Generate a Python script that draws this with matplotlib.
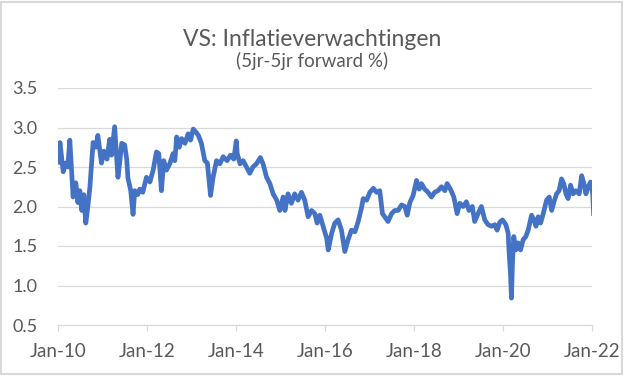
import pandas as pd
import matplotlib
matplotlib.use("Agg")
import matplotlib.pyplot as plt
import matplotlib.dates as mdates
from matplotlib.patches import Rectangle

# 5y5y forward inflation expectations (US)
dates_2010_2013 = [
    "2010-01-03", "2010-01-17", "2010-02-13", "2010-03-05", "2010-03-22", "2010-04-08",
    "2010-05-05", "2010-05-27", "2010-06-13", "2010-06-29", "2010-07-15", "2010-08-01",
    "2010-08-17", "2010-09-03", "2010-09-20", "2010-10-16", "2010-11-08", "2010-11-24",
    "2010-12-24", "2011-01-13", "2011-02-07", "2011-03-01", "2011-03-17", "2011-04-11",
    "2011-04-24", "2011-05-08", "2011-05-22", "2011-06-08", "2011-07-02", "2011-07-19",
    "2011-07-29", "2011-08-21", "2011-09-09", "2011-09-23", "2011-10-17", "2011-11-03",
    "2011-11-28", "2011-12-28", "2012-01-25", "2012-02-21", "2012-03-19", "2012-04-07",
    "2012-04-29", "2012-05-18", "2012-06-09", "2012-07-06", "2012-08-03", "2012-08-17",
    "2012-09-01", "2012-09-22", "2012-10-11", "2012-11-08", "2012-12-04", "2012-12-24",
    "2013-01-15", "2013-02-07", "2013-02-26", "2013-03-23", "2013-04-20", "2013-05-11",
    "2013-06-06", "2013-06-27", "2013-07-25", "2013-08-21", "2013-09-18", "2013-10-20",
    "2013-11-17", "2013-12-14",
]
values_2010_2013 = [
    2.56, 2.81, 2.44, 2.55, 2.50, 2.84,
    2.12, 2.30, 2.05, 2.20, 1.95, 2.15,
    1.79, 2.00, 2.25, 2.81, 2.75, 2.90,
    2.55, 2.70, 2.60, 2.85, 2.65, 3.01,
    2.70, 2.37, 2.55, 2.80, 2.78, 2.60,
    2.36, 2.20, 1.90, 2.20, 2.15, 2.22,
    2.18, 2.37, 2.31, 2.46, 2.69, 2.67,
    2.20, 2.58, 2.46, 2.54, 2.67, 2.58,
    2.88, 2.75, 2.86, 2.80, 2.92, 2.84,
    2.98, 2.94, 2.90, 2.80, 2.58, 2.55,
    2.14, 2.37, 2.58, 2.54, 2.63, 2.58,
    2.65, 2.60,
]

dates_2014_2017 = [
    "2014-01-03", "2014-01-11", "2014-02-03", "2014-03-01", "2014-03-28", "2014-04-24",
    "2014-05-20", "2014-06-18", "2014-07-20", "2014-08-11", "2014-09-09", "2014-10-06",
    "2014-11-02", "2014-12-01", "2014-12-27", "2015-01-23", "2015-02-07", "2015-03-04",
    "2015-04-01", "2015-04-28", "2015-05-25", "2015-06-22", "2015-07-19", "2015-08-16",
    "2015-09-13", "2015-10-10", "2015-10-29", "2015-11-20", "2015-12-17", "2016-01-15",
    "2016-01-28", "2016-02-25", "2016-03-22", "2016-04-18", "2016-05-16", "2016-06-12",
    "2016-07-09", "2016-08-06", "2016-09-03", "2016-09-30", "2016-10-28", "2016-11-10",
    "2016-12-08", "2017-01-04", "2017-02-01", "2017-02-28", "2017-03-26", "2017-04-17",
    "2017-05-06", "2017-06-02", "2017-07-01", "2017-07-27", "2017-08-24", "2017-09-21",
    "2017-10-18", "2017-11-06", "2017-11-28", "2017-12-25",
]
values_2014_2017 = [
    2.83, 2.67, 2.54, 2.58, 2.50, 2.42,
    2.50, 2.54, 2.62, 2.54, 2.37, 2.29,
    2.16, 2.08, 1.95, 2.12, 1.95, 2.16,
    2.04, 2.16, 2.08, 2.18, 2.08, 1.87,
    1.95, 1.91, 1.79, 1.89, 1.75, 1.60,
    1.45, 1.66, 1.79, 1.83, 1.70, 1.43,
    1.58, 1.70, 1.68, 1.81, 1.99, 2.10,
    2.08, 2.18, 2.23, 2.18, 2.20, 1.91,
    1.87, 1.81, 1.91, 1.95, 1.95, 2.02,
    2.00, 1.89, 2.05, 2.14,
]

dates_2018_2022 = [
    "2018-01-22", "2018-02-13", "2018-03-03", "2018-03-30", "2018-04-26", "2018-05-24",
    "2018-06-20", "2018-07-17", "2018-08-14", "2018-09-11", "2018-09-30", "2018-10-27",
    "2018-11-24", "2018-12-21", "2019-01-12", "2019-02-09", "2019-03-07", "2019-03-28",
    "2019-04-25", "2019-05-14", "2019-06-11", "2019-07-08", "2019-08-05", "2019-09-01",
    "2019-09-29", "2019-10-26", "2019-11-14", "2019-12-06", "2019-12-28", "2020-01-25",
    "2020-02-13", "2020-02-21", "2020-03-03", "2020-03-11", "2020-03-19", "2020-03-30",
    "2020-04-16", "2020-05-04", "2020-05-24", "2020-06-15", "2020-07-07", "2020-07-26",
    "2020-08-23", "2020-09-11", "2020-09-28", "2020-10-16", "2020-11-05", "2020-11-27",
    "2020-12-24", "2021-01-15", "2021-02-04", "2021-02-23", "2021-03-16", "2021-04-06",
    "2021-04-26", "2021-05-14", "2021-06-01", "2021-06-19", "2021-07-09", "2021-07-30",
    "2021-08-21", "2021-09-18", "2021-10-08", "2021-10-27", "2021-11-12", "2021-12-01",
    "2021-12-21", "2022-01-07", "2022-01-14",
]
values_2018_2022 = [
    2.33, 2.22, 2.29, 2.22, 2.18, 2.12,
    2.18, 2.20, 2.25, 2.20, 2.29, 2.22,
    2.12, 1.91, 2.04, 2.00, 2.06, 1.95,
    2.00, 1.81, 1.91, 2.00, 1.83, 1.77,
    1.75, 1.77, 1.70, 1.80, 1.83, 1.77,
    1.66, 1.41, 1.15, 0.84, 1.28, 1.62,
    1.45, 1.54, 1.45, 1.58, 1.62, 1.70,
    1.89, 1.83, 1.75, 1.87, 1.79, 1.91,
    2.08, 2.12, 1.95, 2.06, 2.16, 2.20,
    2.35, 2.29, 2.16, 2.10, 2.27, 2.16,
    2.20, 2.16, 2.39, 2.29, 2.16, 2.25,
    2.31, 2.16, 1.91,
]

y_ticks = [0.5, 1.0, 1.5, 2.0, 2.5, 3.0, 3.5]
x_ticks = ["2010-01-01", "2012-01-01", "2014-01-01", "2016-01-01",
           "2018-01-01", "2020-01-01", "2022-01-01"]

df = pd.DataFrame({
    "date": pd.to_datetime(dates_2010_2013 + dates_2014_2017 + dates_2018_2022),
    "value": values_2010_2013 + values_2014_2017 + values_2018_2022,
})

plt.rcParams["font.family"] = ["Lato", "DejaVu Sans"]
text_col = "#595959"
grid_col = "#D9D9D9"

W, H = 625, 376
fig = plt.figure(figsize=(W / 100, H / 100), dpi=100)
ax = fig.add_axes([58 / W, 1 - 325 / H, (592 - 58) / W, (325 - 88) / H])

ax.plot(df["date"], df["value"], color="#4472C4", lw=3.4, solid_joinstyle="round")

ax.set_ylim(0.5, 3.5)
ax.set_yticks(y_ticks)
ax.set_yticklabels([f"{v:.1f}" for v in y_ticks])
ax.set_xlim(pd.Timestamp(x_ticks[0]), pd.Timestamp(x_ticks[-1]))
ax.set_xticks(pd.to_datetime(x_ticks))
ax.xaxis.set_major_formatter(mdates.DateFormatter("%b-%y"))

ax.grid(axis="y", color=grid_col, lw=0.9)
ax.set_axisbelow(True)
for s in ["top", "right", "left"]:
    ax.spines[s].set_visible(False)
ax.spines["bottom"].set_color(grid_col)
ax.spines["bottom"].set_linewidth(0.9)

ax.tick_params(axis="y", length=0, pad=15, labelsize=13, labelcolor=text_col)
ax.tick_params(axis="x", length=4, width=0.9, color=grid_col, pad=9,
               labelsize=13.5, labelcolor=text_col)

fig.text(0.5, 1 - 39 / H, "VS: Inflatieverwachtingen", ha="center", va="center",
         fontsize=16.5, color=text_col)
fig.text(0.5, 1 - 61 / H, "(5jr-5jr forward %)", ha="center", va="center",
         fontsize=13.5, color=text_col)

# chart-area border
fig.patches.append(Rectangle((1 / W, 2 / H), 621 / W, 372 / H, transform=fig.transFigure,
                             fill=False, edgecolor="#D9D9D9", lw=1.5))

fig.savefig("out.png", dpi=100, facecolor="white")
